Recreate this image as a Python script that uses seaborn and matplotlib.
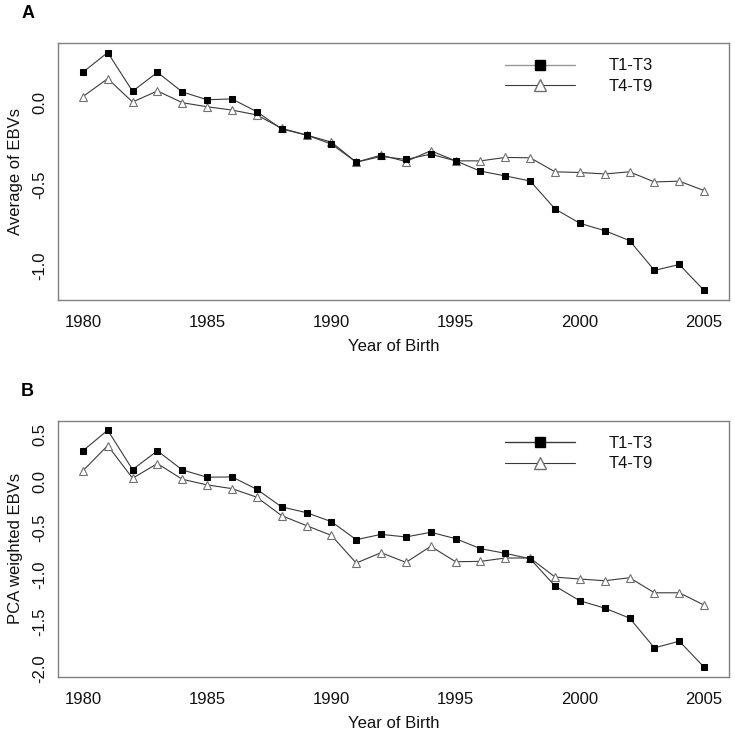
import numpy as np
import pandas as pd
import matplotlib
matplotlib.use("Agg")
import matplotlib.pyplot as plt
import seaborn as sns
from matplotlib.lines import Line2D

sns.set_style("white")
plt.rcParams['font.family'] = ['Liberation Sans', 'DejaVu Sans']
plt.rcParams['text.color'] = "black"

years = list(range(1980, 2006))

a_t1_t3 = [0.186, 0.307, 0.070, 0.186, 0.066, 0.018, 0.023, -0.055, -0.161, -0.198,
           -0.253, -0.364, -0.329, -0.347, -0.315, -0.356, -0.419, -0.448, -0.479, -0.650,
           -0.738, -0.783, -0.844, -1.026, -0.990, -1.149]
a_t4_t9 = [0.037, 0.147, 0.004, 0.072, 0.000, -0.025, -0.045, -0.075, -0.157, -0.198,
           -0.241, -0.364, -0.321, -0.360, -0.294, -0.356, -0.356, -0.335, -0.337, -0.423,
           -0.427, -0.436, -0.423, -0.485, -0.480, -0.538]

b_t1_t3 = [0.325, 0.546, 0.125, 0.325, 0.121, 0.043, 0.046, -0.086, -0.275, -0.336,
           -0.432, -0.625, -0.568, -0.596, -0.546, -0.614, -0.721, -0.771, -0.829, -1.121,
           -1.279, -1.357, -1.464, -1.782, -1.711, -1.989]
b_t4_t9 = [0.111, 0.382, 0.032, 0.189, 0.021, -0.039, -0.079, -0.171, -0.368, -0.475,
           -0.579, -0.875, -0.764, -0.868, -0.696, -0.861, -0.857, -0.821, -0.821, -1.025,
           -1.046, -1.064, -1.032, -1.193, -1.193, -1.325]

series_names = ["T1-T3", "T4-T9"]
panel_labels = ["A", "B"]
y_labels = ["Average of EBVs", "PCA weighted EBVs"]
x_label = "Year of Birth"
x_ticks = [1980, 1985, 1990, 1995, 2000, 2005]
y_ticks_a = [0.0, -0.5, -1.0]
y_ticks_b = [0.5, 0.0, -0.5, -1.0, -1.5, -2.0]

W, H = 735, 733
fig = plt.figure(figsize=(W / 100, H / 100), dpi=100)

def px_axes(x0, y0, x1, y1):
    return fig.add_axes([x0 / W, 1 - y1 / H, (x1 - x0) / W, (y1 - y0) / H])

axA = px_axes(58, 43, 729, 300)
axB = px_axes(58, 420.7, 729, 676.7)

LINE_C = "#3a3a3a"
BOX_C = "#808080"
TRI_C = "#707070"
TXT_C = "#111111"
FS = 12

def draw(ax, s1, s2, yticks, ylab, plab, leg_line1):
    df = pd.DataFrame({"year": years, "v1": s1, "v2": s2})
    sns.lineplot(data=df, x="year", y="v1", ax=ax, color=LINE_C, linewidth=0.8,
                 marker="s", markersize=4.2, markerfacecolor="black",
                 markeredgecolor="black", zorder=3)
    sns.lineplot(data=df, x="year", y="v2", ax=ax, color=LINE_C, linewidth=0.8,
                 marker="^", markersize=5.5, markerfacecolor="white",
                 markeredgecolor=TRI_C, markeredgewidth=0.8, zorder=2)
    allv = np.array(s1 + s2)
    lo, hi = allv.min(), allv.max()
    pad = 0.04 * (hi - lo)
    ax.set_ylim(lo - pad, hi + pad)
    ax.set_xlim(1980 - 0.04 * 25, 2005 + 0.04 * 25)
    ax.set_xticks(x_ticks)
    ax.set_yticks(yticks)
    ax.set_yticklabels([f"{t:.1f}" for t in yticks], rotation=90, va="center")
    ax.tick_params(axis="both", direction="out", length=5, width=0.8,
                   color=BOX_C, labelsize=FS, labelcolor=TXT_C)
    ax.tick_params(axis="x", pad=6)
    ax.tick_params(axis="y", pad=2.8)
    for sp in ax.spines.values():
        sp.set_color(BOX_C)
        sp.set_linewidth(1.0)
    ax.set_xlabel(x_label, fontsize=FS, color=TXT_C)
    ax.set_ylabel(ylab, fontsize=FS, color=TXT_C)
    ax.xaxis.set_label_coords(0.5, -0.152)
    ax.yaxis.set_label_coords(-0.052, 0.5)
    handles = [
        Line2D([0], [0], color=leg_line1, linewidth=1.0, marker="s", markersize=6.5,
               markerfacecolor="black", markeredgecolor="black"),
        Line2D([0], [0], color=LINE_C, linewidth=0.8, marker="^", markersize=9,
               markerfacecolor="white", markeredgecolor=TRI_C),
    ]
    leg = ax.legend(handles, series_names, loc="upper left", bbox_to_anchor=(0.666, 0.94),
                    frameon=False, fontsize=FS, handlelength=4.2, handletextpad=2.0,
                    labelspacing=0.32, borderpad=0, borderaxespad=0)
    for t in leg.get_texts():
        t.set_color(TXT_C)
    ax.text(-0.055, 1.115, plab, transform=ax.transAxes, fontsize=13,
            fontweight="bold", ha="left", va="center", color="black")

draw(axA, a_t1_t3, a_t4_t9, y_ticks_a, y_labels[0], panel_labels[0], "#999999")
draw(axB, b_t1_t3, b_t4_t9, y_ticks_b, y_labels[1], panel_labels[1], LINE_C)

fig.savefig("out.png", dpi=100)
